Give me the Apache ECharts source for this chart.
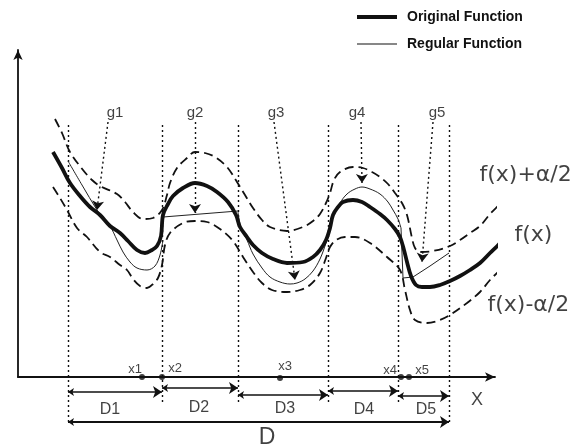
<!DOCTYPE html>
<html>
<head>
<meta charset="utf-8">
<script src="https://cdn.jsdelivr.net/npm/echarts@6/dist/echarts.min.js"></script>
<style>
  html, body { margin: 0; padding: 0; background: #fff; }
  #main { width: 578px; height: 447px; }
</style>
</head>
<body>
<div id="main"></div>
<script>
// Original function f(x): [x, y] samples
const originalF = [
  [35,225],[44,209],[52,194],[62,181],[72,170],[82,162],[92,151],[102,144],[110,136],[119,127],
  [127,124],[134,127],[139,131],[143,141],[145,162],[150,173],[155,181],[165,189],[177,194],[189,191],
  [199,185],[210,175],[218,162],[222,150],[229,140],[235,132],[244,124],[255,118],[269,114],[285,115],
  [295,120],[302,127],[308,137],[312,149],[315,162],[320,170],[325,175],[335,177],[344,175],[352,170],
  [362,163],[369,157],[377,148],[382,140],[386,127],[389,115],[393,101],[398,92],[404,90],[412,90],
  [422,92],[432,96],[442,101],[452,107],[462,114],[472,124],[482,134],[495,153]
];

// Tolerance band f(x) + a/2
const upperBand = [
  [37,258],[44,244],[52,225],[65,207],[74,197],[82,191],[99,183],[107,175],[115,165],[125,158],
  [135,159],[144,167],[149,182],[152,194],[159,209],[169,219],[177,225],[187,224],[197,220],[209,210],
  [219,195],[227,182],[235,169],[244,157],[252,150],[269,146],[285,150],[295,156],[302,163],[308,174],
  [312,184],[316,197],[322,205],[335,210],[345,209],[354,205],[362,200],[370,193],[377,184],[384,174],
  [389,162],[394,139],[397,129],[402,125],[415,126],[432,131],[442,137],[452,144],[462,151],[472,163],
  [482,173],[497,189]
];

// Tolerance band f(x) - a/2
const lowerBand = [
  [35,190],[42,179],[49,167],[59,149],[69,140],[82,125],[92,120],[102,112],[109,107],[115,98],
  [122,91],[129,89],[135,93],[140,99],[144,112],[147,132],[152,144],[165,154],[177,156],[189,155],
  [202,148],[215,136],[225,120],[235,105],[244,94],[254,87],[269,85],[282,87],[292,92],[302,104],
  [308,119],[312,130],[318,137],[327,140],[337,140],[352,134],[369,120],[382,107],[387,87],[392,67],
  [397,57],[409,54],[422,57],[432,62],[449,74],[462,85],[472,97],[482,107],[495,119]
];

// Regular function, one piece per sub-domain
const regularD1 = [[50,216],[64,192],[79,167],[85,159],[92,151],[99,137],[105,125],[112,115],[119,109],[129,107],[137,111],[142,122],[145,137]];
const regularD2 = [[145,160],[220,166]];
const regularD3 = [[220,165],[223,149],[229,137],[235,123],[244,109],[252,100],[262,95],[272,93],[279,94],[287,98],[295,106],[302,118],[308,134],[312,147]];
const regularD4 = [[312,147],[315,160],[322,174],[329,183],[337,188],[344,190],[352,188],[362,183],[370,175],[375,167],[380,158],[383,149]];
const regularD5 = [[383,149],[385,99],[395,100],[412,111],[431,124]];

// Sub-domain boundaries on the x axis and the dotted guides above them
const boundaries = [50, 144, 220, 310, 380, 431];
const guideTop = 252;
const guideBottom = [-45, -28, -28, -28, -28, -45];

// Sub-domain dimension arrows
const intervalNames = ['D1', 'D2', 'D3', 'D4', 'D5'];
const intervalArrowY = [-15, -11, -18, -14, -19];
const intervalLabelPos = [[92,-33],[181,-31],[267,-32],[346,-33],[408,-33]];
const wholeDomainY = -45;
const wholeDomainLabel = ['D', [249,-61]];
const axisName = ['X', [459,-23]];

// Deviation pointers g1..g5: start (under label) and tip
const gNames = ['g1', 'g2', 'g3', 'g4', 'g5'];
const gLabelPos = [[97,264],[177,264],[258,264],[339,264],[419,264]];
const gFrom = [[90,255],[177,255],[256,255],[343,255],[415,255]];
const gTo = [[79,167],[177,164],[277,97],[344,194],[404,115]];

// Points x1..x5 on the axis
const xNames = ['x1', 'x2', 'x3', 'x4', 'x5'];
const xPoints = [[124,0],[144,0],[262,-1],[383,0],[391,0]];
const xLabelPos = [[117,8],[157,9],[267,11],[372,7],[404,7]];

// Curve captions
const curveNames = ['f(x)+\u03b1/2', 'f(x)', 'f(x)-\u03b1/2'];
const curveLabelPos = [[461,202],[496,142],[469,72]];

const INK = '#111';
const FONT = 'Liberation Sans, Arial, sans-serif';

const chart = echarts.init(document.getElementById('main'), null, { renderer: 'canvas' });

function curve(name, data, opts) {
  return Object.assign({
    type: 'line', name: name, data: data, smooth: 0.35, symbol: 'none', color: INK,
    clip: false, silent: true, animation: false
  }, opts);
}

function textLayer(names, positions, size, extra) {
  return {
    type: 'scatter', silent: true, clip: false, animation: false,
    symbolSize: 1, itemStyle: { color: 'rgba(255,255,255,0)' },
    data: names.map((n, i) => ({ name: n, value: positions[i] })),
    label: Object.assign({
      show: true, position: 'inside', formatter: '{b}',
      color: INK, fontFamily: FONT, fontSize: size
    }, extra || {})
  };
}

const bandStyle = { color: INK, width: 1.8, type: [9, 5] };
const thinStyle = { color: '#222', width: 1 };

const series = [
  curve('upper', upperBand, { lineStyle: bandStyle }),
  curve('lower', lowerBand, { lineStyle: bandStyle }),
  curve('Regular Function', regularD1, { lineStyle: thinStyle }),
  curve('Regular Function', regularD2, { smooth: false, lineStyle: thinStyle }),
  curve('Regular Function', regularD3, { lineStyle: thinStyle }),
  curve('Regular Function', regularD4, { lineStyle: thinStyle }),
  curve('Regular Function', regularD5, { smooth: false, lineStyle: thinStyle }),
  curve('Original Function', originalF, { lineStyle: { color: INK, width: 3.8 } }),
  {
    // dotted guides over the sub-domain boundaries
    type: 'lines', coordinateSystem: 'cartesian2d', silent: true, clip: false, animation: false,
    symbol: 'none',
    lineStyle: { color: INK, width: 1.4, type: [2, 3], opacity: 1 },
    data: boundaries.map((b, i) => ({ coords: [[b, guideTop], [b, guideBottom[i]]] }))
  },
  {
    // deviation pointers
    type: 'lines', coordinateSystem: 'cartesian2d', silent: true, clip: false, animation: false,
    symbol: ['none', 'arrow'], symbolSize: [6, 9],
    lineStyle: { color: INK, width: 1.4, type: [2, 3], opacity: 1 },
    data: gFrom.map((p, i) => ({ coords: [p, gTo[i]] }))
  },
  {
    // sub-domain and whole-domain dimension arrows
    type: 'lines', coordinateSystem: 'cartesian2d', silent: true, clip: false, animation: false,
    symbol: ['arrow', 'arrow'], symbolSize: [6, 9],
    lineStyle: { color: INK, width: 1.5, type: 'solid', opacity: 1 },
    data: intervalNames.map((n, i) => ({
      coords: [[boundaries[i], intervalArrowY[i]], [boundaries[i + 1], intervalArrowY[i]]]
    })).concat([{
      coords: [[boundaries[0], wholeDomainY], [boundaries[boundaries.length - 1], wholeDomainY]],
      lineStyle: { width: 2 }
    }])
  },
  {
    type: 'scatter', silent: true, clip: false, animation: false,
    symbol: 'circle', symbolSize: 6, itemStyle: { color: INK },
    data: xPoints
  },
  textLayer(gNames, gLabelPos, 15),
  textLayer(xNames, xLabelPos, 13),
  textLayer(intervalNames, intervalLabelPos, 16),
  textLayer([wholeDomainLabel[0]], [wholeDomainLabel[1]], 23),
  textLayer([axisName[0]], [axisName[1]], 18),
  textLayer(curveNames, curveLabelPos, 22, {
    position: 'right', distance: 0, fontFamily: 'DejaVu Sans, sans-serif'
  })
];

const legendText = { color: INK, fontFamily: FONT, fontSize: 14, fontWeight: 'bold', padding: [0, 0, 0, 5] };

chart.setOption({
  animation: false,
  backgroundColor: '#fff',
  grid: { left: 18, right: 83, top: 50, bottom: 70 },
  legend: [
    {
      data: [{ name: 'Original Function', icon: 'rect', itemStyle: { color: INK } }],
      left: 352, top: 5, itemWidth: 40, itemHeight: 4, selectedMode: false,
      textStyle: legendText
    },
    {
      data: [{ name: 'Regular Function', icon: 'rect', itemStyle: { color: INK } }],
      left: 352, top: 32, itemWidth: 40, itemHeight: 1.2, selectedMode: false,
      textStyle: legendText
    }
  ],
  xAxis: {
    type: 'value', min: 0, max: 477,
    axisLine: { show: true, onZero: false, symbol: ['none', 'arrow'], symbolSize: [7, 10],
      lineStyle: { color: INK, width: 1.8 } },
    axisTick: { show: false }, axisLabel: { show: false }, splitLine: { show: false }
  },
  yAxis: {
    type: 'value', min: 0, max: 327,
    axisLine: { show: true, onZero: false, symbol: ['none', 'arrow'], symbolSize: [7, 10],
      lineStyle: { color: INK, width: 1.8 } },
    axisTick: { show: false }, axisLabel: { show: false }, splitLine: { show: false }
  },
  series: series
});
</script>
</body>
</html>
